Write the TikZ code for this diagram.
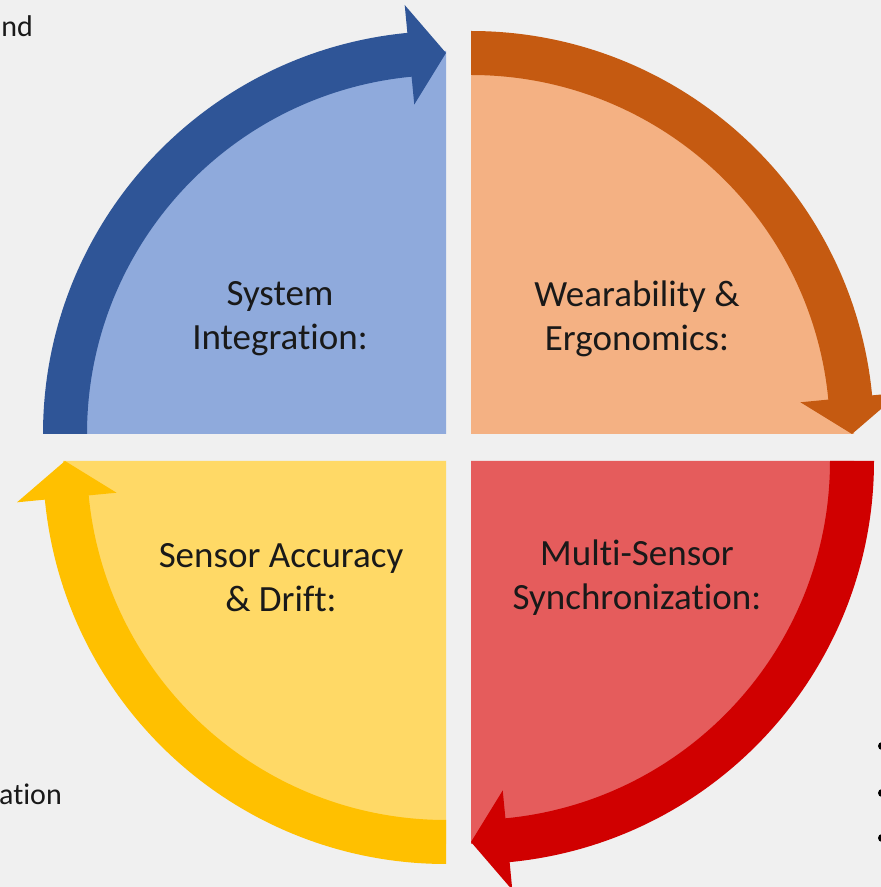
\documentclass[tikz,border=0pt]{standalone}
\usepackage{fontspec}
\setmainfont{Carlito}[Ligatures=NoCommon]
\usetikzlibrary{positioning}

\definecolor{bgcol}{RGB}{240,240,240}
\definecolor{blueband}{RGB}{47,85,151}
\definecolor{bluefill}{RGB}{143,170,220}
\definecolor{orangeband}{RGB}{197,90,17}
\definecolor{orangefill}{RGB}{244,177,131}
\definecolor{redband}{RGB}{208,0,0}
\definecolor{redfill}{RGB}{229,92,92}
\definecolor{yellowband}{RGB}{255,192,0}
\definecolor{yellowfill}{RGB}{255,217,102}

\tikzset{
    label/.style={align=center, text=black!90, font=\fontsize{37}{44}\selectfont},
    cut/.style={anchor=base east, text=black!90, font=\fontsize{30}{36}\selectfont, inner sep=0pt},
    bullet/.style={circle, fill=black, inner sep=0pt, minimum size=8pt}
}

\begin{document}
\begin{tikzpicture}[x=1pt, y=1pt]
    \fill[bgcol] (0,0) rectangle (881,887);
    \useasboundingbox (0,0) rectangle (881,887);

    % quarter sectors and arrow bands
    \foreach \cx/\cy/\a/\light/\dark in {446/453/180/bluefill/blueband,
                                       471/453/90/orangefill/orangeband,
                                       471/426/0/redfill/redband,
                                       446/426/270/yellowfill/yellowband}{
        \begin{scope}[shift={(\cx,\cy)}]
            \fill[\light] (0,0) -- (\a:383) arc[start angle=\a, end angle=\a-90, radius=383] -- cycle;
            \pgfmathsetmacro{\b}{\a-84.5}
            \fill[\dark] (\a:403) arc[start angle=\a, end angle=\b, radius=403]
                -- (\b:431) -- (\a-90:381) -- (\b:331) -- (\b:359)
                arc[start angle=\b, end angle=\a, radius=359] -- cycle;
        \end{scope}
    }

    \draw (280,568) node[label] (integ) {System\\Integration:};
    \draw (637,568) node[label] (wear) {Wearability \&\\Ergonomics:};
    \draw (637,309) node[label] (sync) {Multi-Sensor\\Synchronization:};
    \draw (281,309) node[label] (drift) {Sensor Accuracy\\\& Drift:};

    % text cut off at the edges
    \draw (33,850) node[cut] (topleft) {nd};
    \draw (62,82) node[cut] (botleft) {ation};
    \foreach \y [count=\i] in {141,94,49}{
        \draw (882,\y) node[bullet] (dot\i) {};
    }
    \foreach \y [count=\i] in {863,815}{
        \draw (885,\y) node[bullet, fill=black!40] (topdot\i) {};
    }
\end{tikzpicture}
\end{document}
